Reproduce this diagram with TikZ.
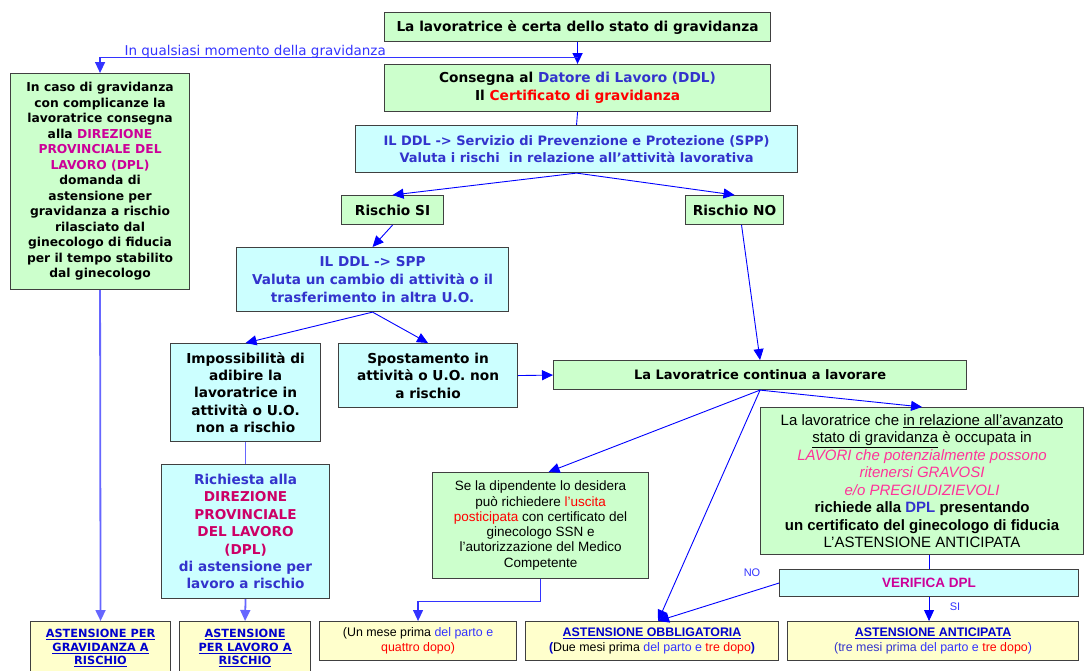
\documentclass[tikz,border=0pt]{standalone}
\usepackage{fontspec}
\setmainfont{DejaVu Sans}
\newfontfamily\ls{Liberation Sans}
\usetikzlibrary{arrows.meta,calc}
\definecolor{gfill}{HTML}{CCFFCC}
\definecolor{cfill}{HTML}{CCFFFF}
\definecolor{yfill}{HTML}{FFFFCC}
\definecolor{bord}{HTML}{404040}
\definecolor{tblue}{HTML}{3333CC}
\definecolor{pblue}{HTML}{3333FF}
\definecolor{ublue}{HTML}{0000CC}
\definecolor{lnblue}{HTML}{0000FF}
\definecolor{lightln}{HTML}{6666FF}
\definecolor{mag}{HTML}{CC0099}
\definecolor{crim}{HTML}{CC0066}
\definecolor{pinkit}{HTML}{FF3399}
\definecolor{tred}{HTML}{FF0000}
\tikzset{
  box/.style={draw=bord, line width=1.1pt, align=center, inner sep=0pt, anchor=north west},
  gbox/.style={box, fill=gfill},
  cbox/.style={box, fill=cfill},
  ybox/.style={box, fill=yfill},
  wide/.style={font={\fontsize{13.7pt}{17.7pt}\selectfont\bfseries}},
  narrow/.style={font={\ls\fontsize{13.5pt}{15.3pt}\selectfont}},
  tip/.style={-{Triangle[length=11pt,width=10pt]}},
  ln/.style={draw=lnblue, line width=0.9pt},
  arr/.style={ln, tip},
  lln/.style={draw=lightln, line width=1.8pt},
  lbl/.style={text=pblue, font={\ls\fontsize{11pt}{13pt}\selectfont}, inner sep=0pt}
}
\begin{document}
\begin{tikzpicture}[x=1pt,y=1pt]
\fill[white] (0,0) rectangle (1085,-670);
\useasboundingbox (0,0) rectangle (1085,-670);

% nodes
\node[gbox, wide, minimum width=386pt, minimum height=29pt] (top) at (384,-12)
  {La lavoratrice è certa dello stato di gravidanza};
\node[gbox, wide, minimum width=386pt, minimum height=47pt] (cons) at (384,-64)
  {Consegna al \textcolor{tblue}{Datore di Lavoro (DDL)}\\Il \textcolor{tred}{Certificato di gravidanza}};
\node[cbox, text=tblue, font={\fontsize{13pt}{17.7pt}\selectfont\bfseries}, minimum width=442pt, minimum height=47pt] (spp) at (355,-125)
  {IL DDL -> Servizio di Prevenzione e Protezione (SPP)\\Valuta i rischi\ \ in relazione all’attività lavorativa};
\node[gbox, wide, minimum width=102pt, minimum height=29pt] (rsi) at (341,-195) {Rischio SI};
\node[gbox, wide, minimum width=98pt, minimum height=29pt] (rno) at (685,-195) {Rischio NO};
\node[cbox, text=tblue, font={\fontsize{13.6pt}{18pt}\selectfont\bfseries}, minimum width=272pt, minimum height=64pt] (val) at (236,-247)
  {IL DDL -> SPP\\Valuta un cambio di attività o il\\trasferimento in altra U.O.};
\node[cbox, font={\fontsize{13.7pt}{17.4pt}\selectfont\bfseries}, minimum width=150pt, minimum height=98pt] (imp) at (170,-343)
  {Impossibilità di\\adibire la\\lavoratrice in\\attività o U.O.\\non a rischio};
\node[cbox, font={\fontsize{13.7pt}{17.4pt}\selectfont\bfseries}, minimum width=179pt, minimum height=64pt] (spost) at (338,-343)
  {Spostamento in\\attività o U.O. non\\a rischio};
\node[gbox, font={\fontsize{13pt}{17pt}\selectfont\bfseries}, minimum width=413pt, minimum height=29pt] (cont) at (553,-360)
  {La Lavoratrice continua a lavorare};
\node[gbox, font={\fontsize{12.3pt}{15.5pt}\selectfont\bfseries}, minimum width=179pt, minimum height=216pt] (left) at (10,-73)
  {In caso di gravidanza\\con complicanze la\\lavoratrice consegna\\alla \textcolor{mag}{DIREZIONE}\\\textcolor{mag}{PROVINCIALE DEL}\\\textcolor{mag}{LAVORO (DPL)}\\domanda di\\astensione per\\gravidanza a rischio\\rilasciato dal\\ginecologo di fiducia\\per il tempo stabilito\\dal ginecologo};
\node[cbox, text=tblue, font={\fontsize{13.6pt}{17.4pt}\selectfont\bfseries}, minimum width=168pt, minimum height=134pt] (rich) at (161,-464)
  {Richiesta alla\\\textcolor{crim}{DIREZIONE}\\\textcolor{crim}{PROVINCIALE}\\\textcolor{crim}{DEL LAVORO}\\\textcolor{crim}{(DPL)}\\di astensione per\\lavoro a rischio};
\node[gbox, narrow, minimum width=216pt, minimum height=106pt] (sela) at (432,-472)
  {Se la dipendente lo desidera\\può richiedere \textcolor{tred}{l’uscita}\\\textcolor{tred}{posticipata} con certificato del\\ginecologo SSN e\\l’autorizzazione del Medico\\Competente};
\node[gbox, font={\ls\fontsize{15pt}{17.5pt}\selectfont}, minimum width=323pt, minimum height=147pt] (big) at (760,-407)
  {La lavoratrice che \underline{in relazione all’avanzato}\\\underline{stato di gravidanza} è occupata in\\\textcolor{pinkit}{\itshape LAVORI che potenzialmente possono}\\\textcolor{pinkit}{\itshape ritenersi GRAVOSI}\\\textcolor{pinkit}{\itshape e/o PREGIUDIZIEVOLI}\\\textbf{richiede alla \textcolor{tblue}{DPL} presentando}\\\textbf{un certificato del ginecologo di fiducia}\\L’ASTENSIONE ANTICIPATA};
\node[cbox, text=mag, font={\ls\fontsize{13.5pt}{15pt}\selectfont\bfseries}, minimum width=299pt, minimum height=27pt] (verif) at (779,-569)
  {VERIFICA DPL};
\node[ybox, text=ublue, font={\fontsize{11.3pt}{13.5pt}\selectfont\bfseries}, minimum width=140pt, minimum height=53pt] (A) at (30,-621)
  {\underline{ASTENSIONE PER}\\\underline{GRAVIDANZA A}\\\underline{RISCHIO}};
\node[ybox, text=ublue, font={\fontsize{11.3pt}{13.5pt}\selectfont\bfseries}, minimum width=131pt, minimum height=53pt] (B) at (179,-621)
  {\underline{ASTENSIONE}\\\underline{PER LAVORO A}\\\underline{RISCHIO}};
\node[ybox, font={\ls\fontsize{12.4pt}{15pt}\selectfont}, minimum width=197pt, minimum height=39pt] (C) at (319,-621)
  {(Un mese prima \textcolor{pblue}{del parto e}\\\textcolor{tred}{quattro dopo)}};
\node[ybox, font={\ls\fontsize{12.4pt}{15pt}\selectfont}, minimum width=253pt, minimum height=39pt] (D) at (525,-621)
  {\textcolor{ublue}{\bfseries\underline{ASTENSIONE OBBLIGATORIA}}\\\textcolor{ublue}{\bfseries(}Due mesi prima \textcolor{pblue}{del parto e} \textcolor{tred}{tre dopo}\textcolor{ublue}{\bfseries)}};
\node[ybox, font={\ls\fontsize{12.4pt}{15pt}\selectfont}, minimum width=291pt, minimum height=39pt] (E) at (787,-621)
  {\textcolor{ublue}{\bfseries\underline{ASTENSIONE ANTICIPATA}}\\\textcolor{tblue}{(tre mesi prima }\textcolor{pblue}{del parto e} \textcolor{tred}{tre dopo}\textcolor{pblue}{)}};

% labels
\node[anchor=base east, text=pblue, inner sep=0pt, font={\fontsize{13.5pt}{16pt}\selectfont}] (qlab) at (386,-55)
  {In qualsiasi momento della gravidanza};
\node[lbl] (nolab) at (752,-573) {NO};
\node[lbl] (silab) at (955,-607) {SI};

% connectors
\coordinate (q) at ($(top.south)!0.7!(cons.north)$);
\draw[arr, line width=1.6pt] (top.south) -- (cons.north);
\draw[draw=pblue, line width=1.4pt, tip] (q) -| (left.north);
\draw[ln] (cons.south) -- (spp.north);
\draw[arr] (spp.south) -- (rsi.north);
\draw[arr] (spp.south) -- (rno.north);
\draw[arr] (rsi.south) -- (val.north);
\draw[arr] ([xshift=7pt]rno.south) -- (cont.north);
\draw[arr] (val.south) -- (imp.north);
\draw[arr] (val.south) -- (spost.north);
\draw[arr] (spost.east) -- (cont.west);
\coordinate (dtop) at ([xshift=6pt]D.north);
\draw[arr] (cont.south) -- ([xshift=8pt]sela.north);
\draw[arr] (cont.south) -- (dtop);
\draw[arr] (cont.south) -- (big.north);
\draw[ln] (big.south -| verif.north) -- (verif.north);
\draw[arr] (verif.west) -- (dtop);
\draw[arr] (verif.south) -- (verif.south |- E.north);
\draw[arr, draw=pblue, line width=1.2pt] (sela.south) -- ++(0,-22) -| (C.north);
\draw[lln, tip] (left.south) -- (A.north);
\draw[lln] (imp.south) -- (rich.north);
\draw[lln, tip] (rich.south) -- (B.north);
\end{tikzpicture}
\end{document}
